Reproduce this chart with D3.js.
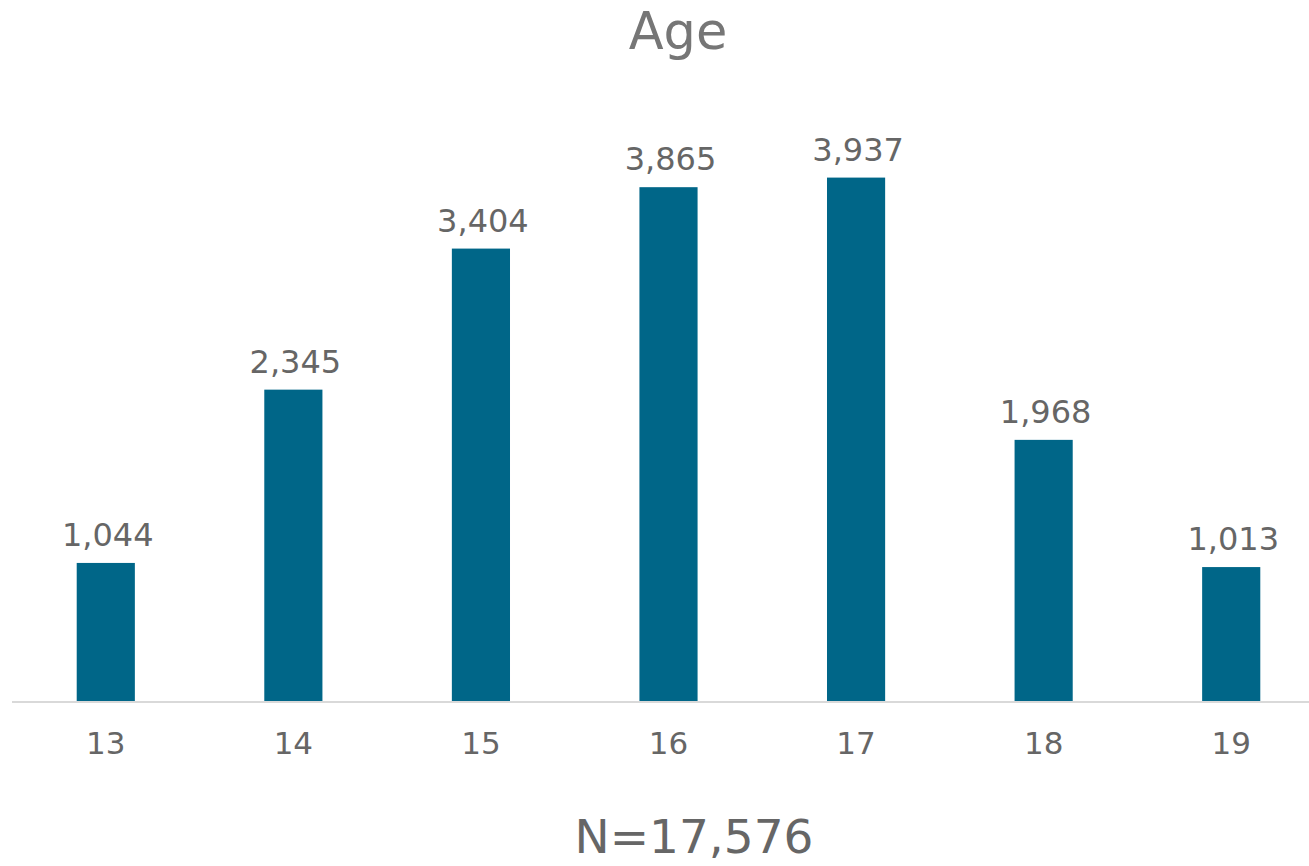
<!DOCTYPE html>
<html>
<head>
<meta charset="utf-8">
<script src="https://cdn.jsdelivr.net/npm/d3@7"></script>
<style>
  body { margin: 0; background: #fff; }
  text { font-family: "DejaVu Sans", Verdana, sans-serif; }
</style>
</head>
<body>
<svg width="1309" height="866"></svg>
<script>
const ages = ["13", "14", "15", "16", "17", "18", "19"];
const counts = [1044, 2345, 3404, 3865, 3937, 1968, 1013];
const titleText = "Age";
const noteText = "N=17,576";

const svg = d3.select("svg");
const baseY = 702;

// x band covers a little beyond the right edge, like the original
const xScale = d3.scaleBand()
    .domain(ages)
    .range([12, 1325])
    .paddingInner(0.69)
    .paddingOuter(0.345);

const yScale = d3.scaleLinear()
    .domain([0, 4500])
    .range([baseY, baseY - 4500 * 0.1332]);

// title
svg.append("text")
    .attr("x", 678)
    .attr("y", 49)
    .attr("text-anchor", "middle")
    .attr("font-size", 51)
    .attr("fill", "#767676")
    .text(titleText);

// bars
svg.selectAll(".bar")
    .data(counts)
    .enter().append("rect")
    .attr("class", "bar")
    .attr("x", (d, i) => xScale(ages[i]))
    .attr("y", d => yScale(d))
    .attr("width", xScale.bandwidth())
    .attr("height", d => baseY - yScale(d))
    .attr("fill", "#006688");

// value labels
svg.selectAll(".val")
    .data(counts)
    .enter().append("text")
    .attr("class", "val")
    .attr("x", (d, i) => xScale(ages[i]) + xScale.bandwidth() / 2 + 2)
    .attr("y", d => yScale(d) - 17)
    .attr("text-anchor", "middle")
    .attr("font-size", 32)
    .attr("fill", "#666666")
    .text(d => d3.format(",")(d));

// axis
const xAxis = d3.axisBottom(xScale).tickSize(0).tickPadding(30);
const gX = svg.append("g")
    .attr("transform", `translate(0, ${baseY})`)
    .call(xAxis);
gX.select(".domain").attr("stroke", "#d9d9d9").attr("stroke-width", 2)
    .attr("d", `M12,0H1309`);
gX.selectAll(".tick text")
    .attr("font-size", 31)
    .attr("font-family", "DejaVu Sans, Verdana, sans-serif")
    .attr("fill", "#666666");

// sample size note
svg.append("text")
    .attr("x", 694)
    .attr("y", 853)
    .attr("text-anchor", "middle")
    .attr("font-size", 47)
    .attr("fill", "#666666")
    .text(noteText);
</script>
</body>
</html>
